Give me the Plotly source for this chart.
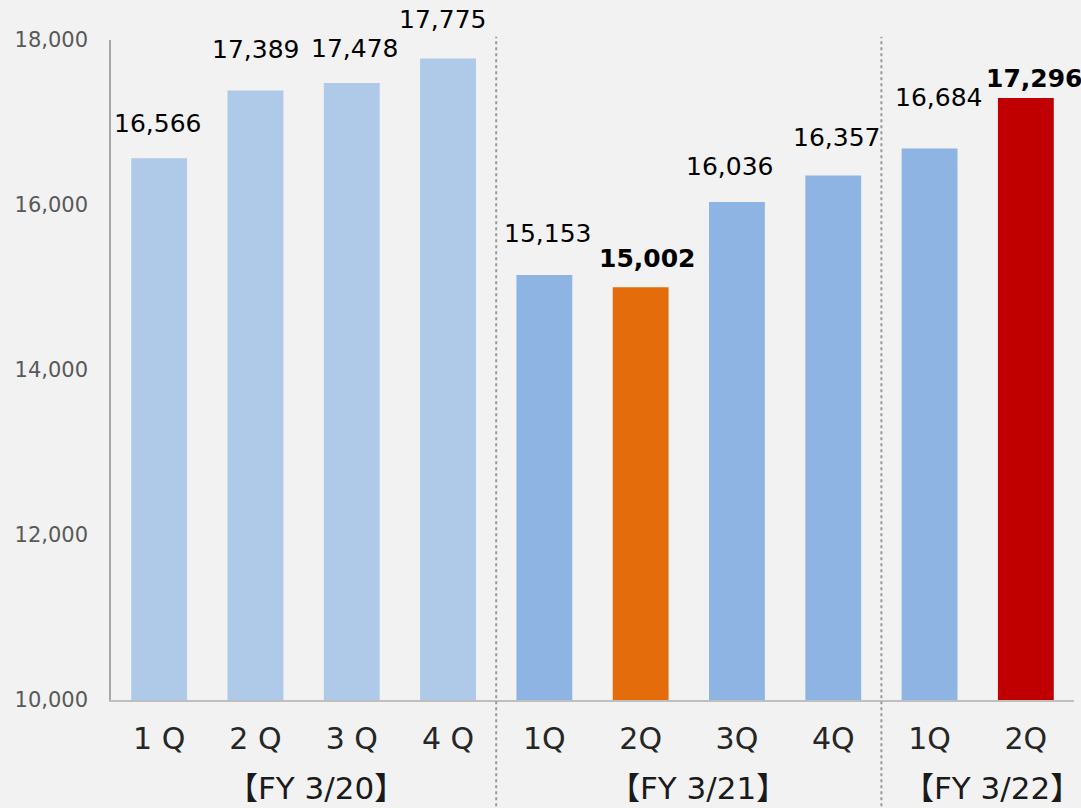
import plotly.graph_objects as go

quarters = ["1 Q", "2 Q", "3 Q", "4 Q", "1Q", "2Q", "3Q", "4Q", "1Q", "2Q"]
values = [16566, 17389, 17478, 17775, 15153, 15002, 16036, 16357, 16684, 17296]
value_labels = ["16,566", "17,389", "17,478", "17,775", "15,153", "15,002",
                "16,036", "16,357", "16,684", "17,296"]
groups = ["【FY 3/20】", "【FY 3/21】", "【FY 3/22】"]
group_sizes = [4, 4, 2]
y_ticks = [10000, 12000, 14000, 16000, 18000]
y_ticktext = ["10,000", "12,000", "14,000", "16,000", "18,000"]

# styling
bar_colors = ["#afc9e9"] * 4 + ["#8eb4e3", "#e46c0a", "#8eb4e3", "#8eb4e3", "#8eb4e3", "#c00000"]
bold = [False] * 5 + [True] + [False] * 3 + [True]
label_dx = [-2, 0, 3, -6, 3, 6, -7, 3, 9, 8]
label_dy = [35, 41, 35, 39, 41, 29, 36, 38, 51, 20]
group_dx = [12, 9, 14]

FONT = "DejaVu Sans, Noto Sans CJK JP"
xs = list(range(len(values)))

fig = go.Figure()
fig.add_trace(go.Bar(
    x=xs, y=values, marker=dict(color=bar_colors, line=dict(width=0)),
    hoverinfo="skip", showlegend=False,
))

for i, (v, t) in enumerate(zip(values, value_labels)):
    fig.add_annotation(
        x=i, y=v, xref="x", yref="y", text=f"<b>{t}</b>" if bold[i] else t,
        showarrow=False, xanchor="center", yanchor="middle",
        xshift=label_dx[i], yshift=label_dy[i],
        font=dict(family=FONT, size=25, color="#000000"),
    )

start = 0
for g, n, dx in zip(groups, group_sizes, group_dx):
    center = start + (n - 1) / 2
    fig.add_annotation(
        x=center, y=-0.133, xref="x", yref="paper", text=g, showarrow=False,
        xanchor="center", yanchor="middle", xshift=dx,
        font=dict(family=FONT, size=31, color="#1a1a1a"),
    )
    start += n
    if start < len(values):
        fig.add_shape(
            type="line", xref="x", yref="paper", x0=start - 0.5, x1=start - 0.5,
            y0=-0.17, y1=1.005, line=dict(color="#9a9a9a", width=2, dash="dot"),
        )

fig.update_layout(
    width=1081, height=808,
    margin=dict(l=111, r=7, t=40, b=108),
    paper_bgcolor="#f2f2f2", plot_bgcolor="#f2f2f2",
    bargap=0.42,
    xaxis=dict(
        tickmode="array", tickvals=xs, ticktext=quarters,
        range=[-0.5, len(values) - 0.5],
        showline=True, linecolor="#bfbfbf", linewidth=1.5,
        showgrid=False, zeroline=False, ticks="",
        tickfont=dict(family=FONT, size=30, color="#262626"),
        ticklabelstandoff=11,
    ),
    yaxis=dict(
        range=[10000, 18000], tickmode="array", tickvals=y_ticks, ticktext=y_ticktext,
        showline=True, linecolor="#a6a6a6", linewidth=1.5,
        showgrid=False, zeroline=False, ticks="",
        tickfont=dict(family=FONT, size=21, color="#595959"),
        ticklabelstandoff=17,
    ),
)

fig.write_html(
    "out.html",
    config={"displayModeBar": False},
    post_script="document.body.style.margin='0';document.body.style.background='#f2f2f2';document.body.style.overflow='hidden';",
)
